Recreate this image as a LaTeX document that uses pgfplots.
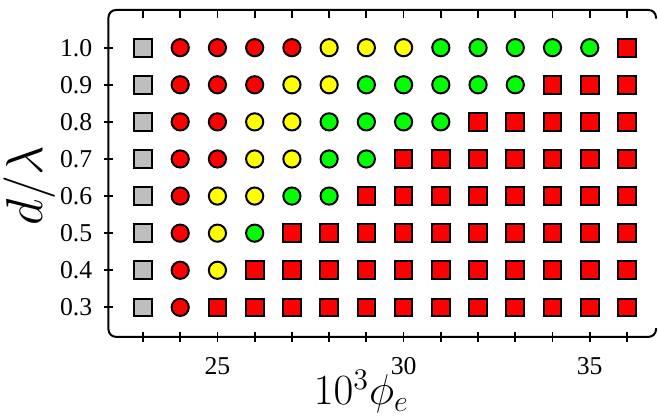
\documentclass[border=0pt]{standalone}
\usepackage{fontspec}
\setmainfont{Liberation Serif}
\usepackage{pgfplots}
\pgfplotsset{compat=1.18}

\definecolor{cgray}{RGB}{190,190,190}
\definecolor{cred}{RGB}{255,0,0}
\definecolor{cyellow}{RGB}{255,255,0}
\definecolor{cgreen}{RGB}{0,255,0}

\begin{document}
\begin{tikzpicture}
\begin{axis}[
    name=ax,
    scale only axis,
    width=219.6pt, height=131.1pt,
    xmin=22.073, xmax=36.78,
    ymin=0.2205, ymax=1.1016,
    axis line style={draw=none},
    clip=false,
    xtick={23,...,36},
    xticklabels={,,25,,,,,30,,,,,35,},
    xtick pos=bottom,
    ytick={0.3,0.4,...,1.0},
    ytick pos=left,
    tick align=center,
    major tick length=3.8pt,
    tick style={black, line width=0.7pt},
    /pgf/number format/assume math mode=true,
    ticklabel style={font=\rmfamily\fontsize{10.3}{12}\selectfont, inner sep=0pt},
    xticklabel style={anchor=base, yshift=-13.2pt},
    yticklabel style={anchor=east, xshift=-4.4pt,
      /pgf/number format/fixed, /pgf/number format/fixed zerofill,
      /pgf/number format/precision=1},
    xlabel={$10^3\phi_e$},
    ylabel={$d/\lambda$},
    xlabel style={font=\fontsize{17}{20}\selectfont, inner sep=0pt,
      at={(axis description cs:0.462,0)}, anchor=base, yshift=-27.2pt},
    ylabel style={font=\fontsize{20}{24}\selectfont, inner sep=0pt,
      at={(axis description cs:-0.0966,0.462)}, anchor=south},
    every axis plot/.append style={only marks, line width=0.8pt, draw=black},
    after end axis/.code={
      % frame with rounded corners, open on the right
      \draw[line width=0.8pt, rounded corners=3pt]
        ([yshift=-3.5pt]rel axis cs:1,1) -- (rel axis cs:1,1) -- (rel axis cs:0,1)
        -- (rel axis cs:0,0) -- (rel axis cs:1,0) -- ([yshift=3.5pt]rel axis cs:1,0);
      % top ticks, pointing inward
      \foreach \t in {23,...,36}{
        \draw[line width=0.7pt] (axis cs:\t,1.1016) -- ++(0,-3.3pt);
      }
    },
]
% gray squares
\addplot[mark=square*, mark size=3.55pt, mark options={draw=black, fill=cgray}] coordinates {
 (23,0.3) (23,0.4) (23,0.5) (23,0.6) (23,0.7) (23,0.8) (23,0.9) (23,1.0)};
% red circles
\addplot[mark=*, mark size=3.45pt, mark options={draw=black, fill=cred}] coordinates {
 (24,1.0) (25,1.0) (26,1.0) (27,1.0)
 (24,0.9) (25,0.9) (26,0.9)
 (24,0.8) (25,0.8)
 (24,0.7) (25,0.7)
 (24,0.6) (24,0.5) (24,0.4) (24,0.3)};
% yellow circles
\addplot[mark=*, mark size=3.45pt, mark options={draw=black, fill=cyellow}] coordinates {
 (28,1.0) (29,1.0) (30,1.0)
 (27,0.9) (28,0.9)
 (26,0.8) (27,0.8)
 (26,0.7) (27,0.7)
 (25,0.6) (26,0.6)
 (25,0.5) (25,0.4)};
% green circles
\addplot[mark=*, mark size=3.45pt, mark options={draw=black, fill=cgreen}] coordinates {
 (31,1.0) (32,1.0) (33,1.0) (34,1.0) (35,1.0)
 (29,0.9) (30,0.9) (31,0.9) (32,0.9) (33,0.9)
 (28,0.8) (29,0.8) (30,0.8) (31,0.8)
 (28,0.7) (29,0.7)
 (27,0.6) (28,0.6)
 (26,0.5)};
% red squares
\addplot[mark=square*, mark size=3.55pt, mark options={draw=black, fill=cred}] coordinates {
 (36,1.0)
 (34,0.9) (35,0.9) (36,0.9)
 (32,0.8) (33,0.8) (34,0.8) (35,0.8) (36,0.8)
 (30,0.7) (31,0.7) (32,0.7) (33,0.7) (34,0.7) (35,0.7) (36,0.7)
 (29,0.6) (30,0.6) (31,0.6) (32,0.6) (33,0.6) (34,0.6) (35,0.6) (36,0.6)
 (27,0.5) (28,0.5) (29,0.5) (30,0.5) (31,0.5) (32,0.5) (33,0.5) (34,0.5) (35,0.5) (36,0.5)
 (26,0.4) (27,0.4) (28,0.4) (29,0.4) (30,0.4) (31,0.4) (32,0.4) (33,0.4) (34,0.4) (35,0.4) (36,0.4)
 (25,0.3) (26,0.3) (27,0.3) (28,0.3) (29,0.3) (30,0.3) (31,0.3) (32,0.3) (33,0.3) (34,0.3) (35,0.3) (36,0.3)};
\end{axis}
\pgfresetboundingbox
\path ([xshift=-43.5pt,yshift=-33.3pt]ax.south west) rectangle ([xshift=0.8pt,yshift=4pt]ax.north east);
\end{tikzpicture}
\end{document}
